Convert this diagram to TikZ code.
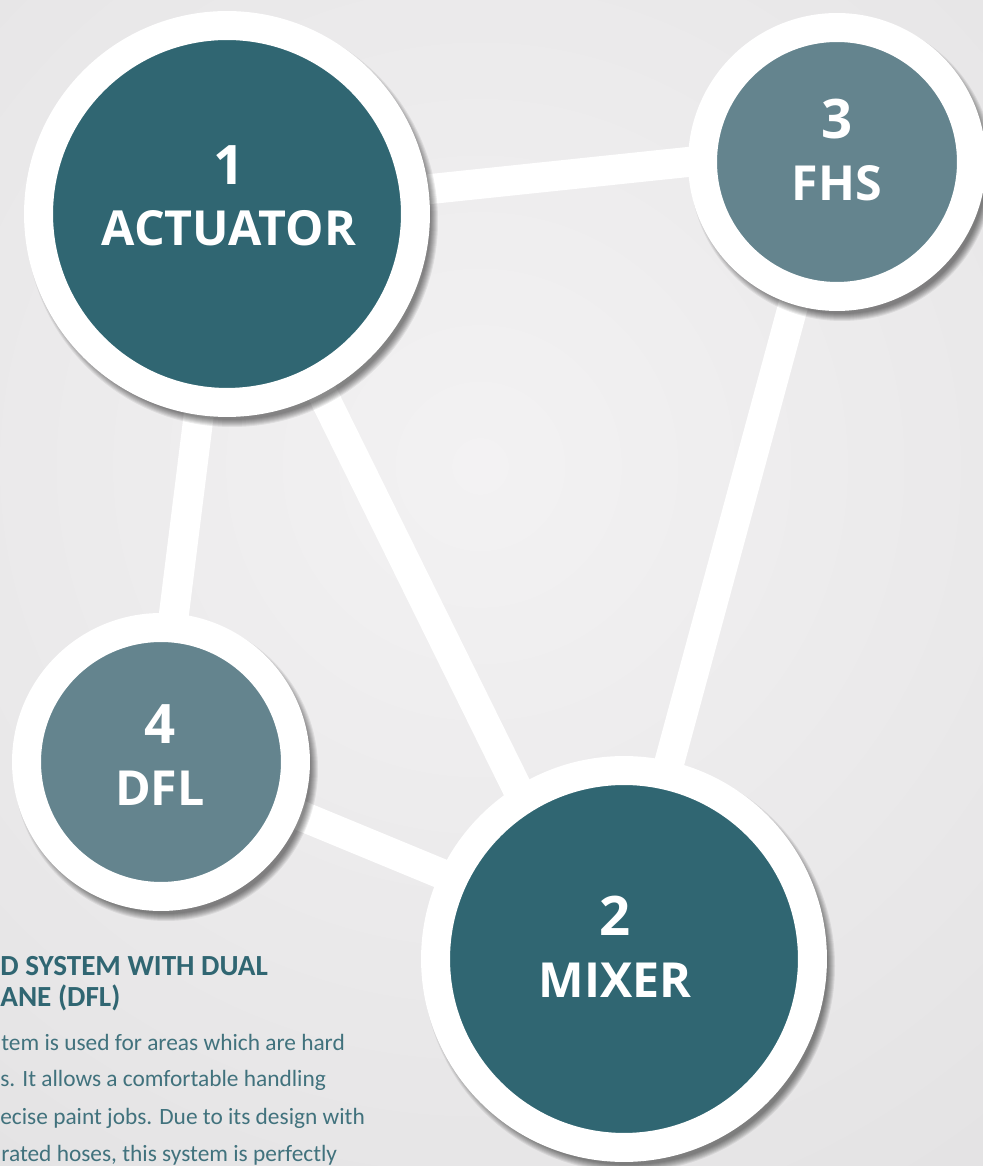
\documentclass[tikz,border=0pt]{standalone}
\usepackage{fontspec}
\setmainfont{Carlito}
\newfontfamily\lblfont{Open Sans}
\usetikzlibrary{positioning}
\definecolor{tealdark}{RGB}{48,102,114}
\definecolor{teallight}{RGB}{100,132,142}
\definecolor{bglight}{RGB}{243,242,243}
\definecolor{bgdark}{RGB}{220,219,220}
\pgfdeclarelayer{bg}
\pgfdeclarelayer{conn}
\pgfdeclarelayer{shad}
\pgfsetlayers{bg,conn,shad,main}
\newcommand{\stno}[1]{{\fontsize{31}{36}\selectfont #1}}
\tikzset{
    bigstage/.style={
      circle,
           fill=tealdark,
           draw=white, line width=0.58cm,
           inner sep=0pt,
           minimum size=7.54cm,
           },
}
\tikzset{
    smallstage/.style={
      circle,
           fill=teallight,
           draw=white, line width=0.58cm,
           inner sep=0pt,
           minimum size=5.38cm,
           },
}
\tikzset{
    stagetext/.style={
      text=white,
           align=center,
           font=\lblfont\bfseries\fontsize{27.5}{35}\selectfont,
           },
}
\tikzset{
    link/.style={
      draw=white, line width=0.6cm,
           shorten <=-0.5cm, shorten >=-0.5cm,
           },
}
\tikzset{
    infohead/.style={
      text=tealdark, anchor=base west, inner sep=0pt,
           font=\bfseries\fontsize{16.6}{18}\selectfont,
           },
}
\tikzset{
    infotext/.style={
      text=tealdark!92!white, anchor=base west, inner sep=0pt,
           font=\fontsize{13.3}{15}\selectfont,
           },
}
\begin{document}
\begin{tikzpicture}[x=0.02cm,y=0.02cm]

\useasboundingbox (0,0) rectangle (983,1166);
\clip (0,0) rectangle (983,1166);

\begin{pgfonlayer}{bg}
\fill[bgdark] (0,0) rectangle (983,1166);
\shade[inner color=bglight,outer color=bgdark] (480,700) circle (1300);
\end{pgfonlayer}

\node[bigstage](act) at (227,952){};
\node[smallstage](fhs) at (837,1004){};
\node[smallstage](dfl) at (161,404){};
\node[bigstage](mix) at (624,207){};

\node[stagetext](act-t) at (229,970){\stno{1}\\ACTUATOR};
\node[stagetext](fhs-t) at (837,1016){\stno{3}\\FHS};
\node[stagetext](dfl-t) at (160,411){\stno{4}\\DFL};
\node[stagetext](mix-t) at (615,219){\stno{2}\\MIXER};

%white links behind the circles
\begin{pgfonlayer}{conn}
\path[link] (act.7) -- (fhs.180);
\path[link] (act.262) -- (dfl.85);
\path[link] (act.298) -- (mix.122);
\path[link] (fhs.253) -- (mix.77);
\path[link] (dfl.339) -- (mix.155);
\end{pgfonlayer}

%soft shadows
\begin{pgfonlayer}{shad}
\foreach \n/\r in {act/203,fhs/149,dfl/149,mix/203}
  \foreach \k in {0,...,7}
    \fill[black,opacity=0.07] ([shift={(5,-7)}]\n.center) circle (\r+3-\k);
\end{pgfonlayer}

\node[infohead](hd1) at (0,190){D SYSTEM WITH DUAL};
\node[infohead](hd2) at (0,159){ANE (DFL)};

\node[infotext](tx1) at (1,115){tem is used for areas which are hard};
\node[infotext](tx2) at (0,79){s. It allows a comfortable handling};
\node[infotext](tx3) at (0,41){ecise paint jobs. Due to its design with};
\node[infotext](tx4) at (1,5){rated hoses, this system is perfectly};

\end{tikzpicture}
\end{document}
